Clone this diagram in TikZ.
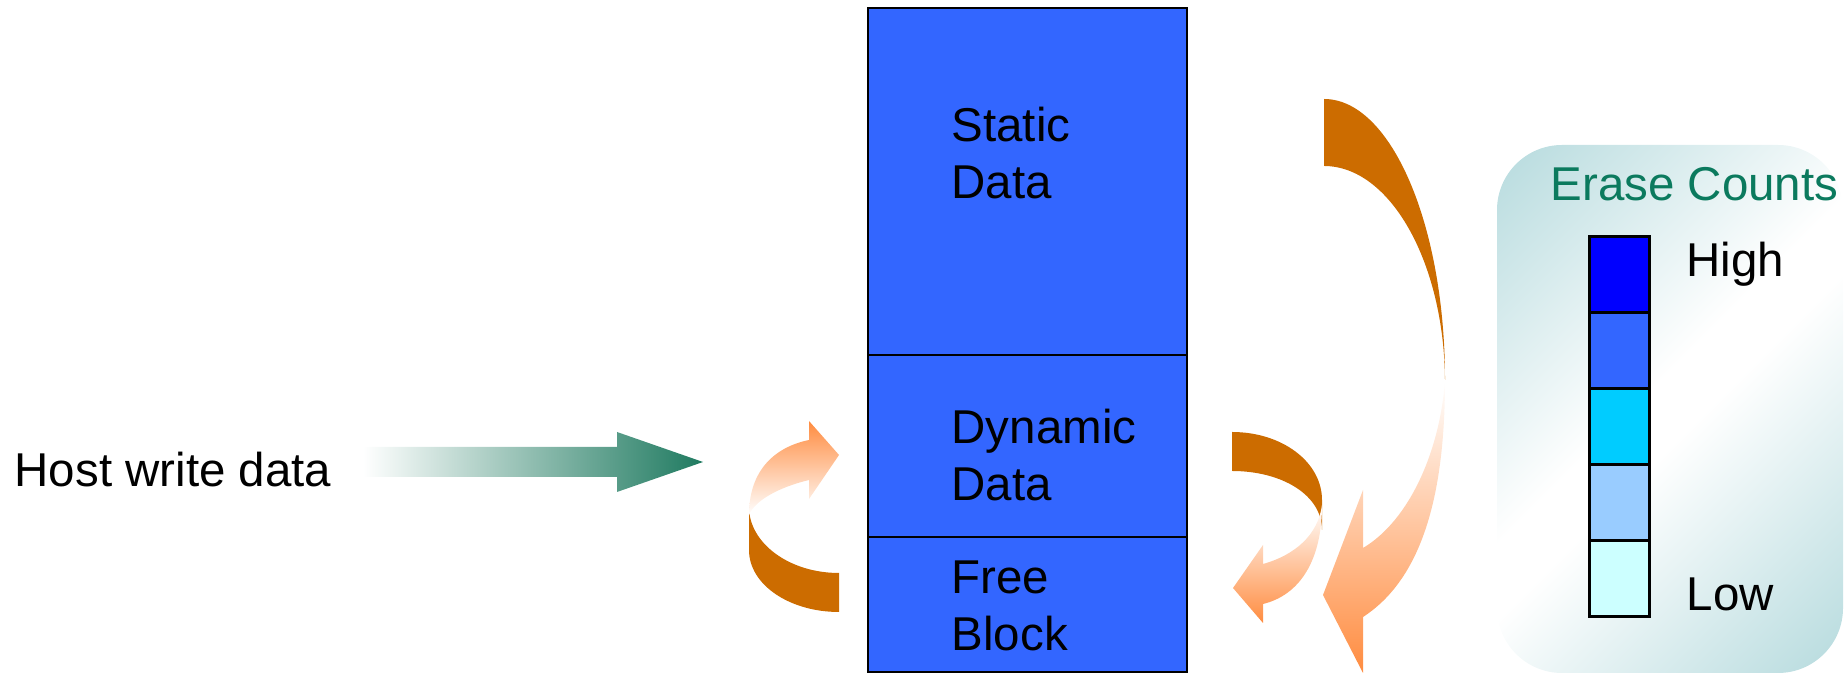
\documentclass[tikz,border=0pt]{standalone}
\usepackage{fontspec}
\setmainfont{Liberation Sans}
\usetikzlibrary{positioning}
\definecolor{blockblue}{HTML}{3366FF}
\definecolor{hostgreen}{HTML}{1F7A60}
\definecolor{erasegreen}{HTML}{0B7A5E}
\definecolor{panelteal}{HTML}{B9DCDF}
\definecolor{arrbrown}{HTML}{CC6C00}
\definecolor{arrorange}{HTML}{FF8C40}
\definecolor{countA}{HTML}{0000FF}
\definecolor{countB}{HTML}{3366FF}
\definecolor{countC}{HTML}{00CCFF}
\definecolor{countD}{HTML}{99CCFF}
\definecolor{countE}{HTML}{CCFFFF}
\pgfdeclareverticalshading{panelshade}{100bp}{color(0bp)=(panelteal); color(16bp)=(panelteal);
    color(47bp)=(white); color(53bp)=(white); color(84bp)=(panelteal); color(100bp)=(panelteal)}
\tikzset{blockstyle/.style={draw=black,line width=0.6pt,fill=blockblue,minimum width=3.19cm,inner sep=0pt,outer sep=0pt}}
\tikzset{textstyle/.style={font=\fontsize{13.5}{16.3}\selectfont,align=left,inner sep=0pt}}
\tikzset{cellstyle/.style={draw=black,line width=0.8pt,minimum width=0.6cm,minimum height=0.76cm,inner sep=0pt,anchor=north west}}

\begin{document}
\begin{tikzpicture}[x=0.01cm,y=-0.01cm]
            \useasboundingbox (0,0) rectangle (1845,674);
            % legend panel
            \shade[rounded corners=0.65cm,shading=panelshade,shading angle=45]
                (1497,145) rectangle (1843,673);
            % the blocks
            \node[blockstyle,minimum height=3.47cm,anchor=north] (static) at (1027.5,8) {};
            \node[blockstyle,minimum height=1.82cm,below=0pt of static] (dynamic) {};
            \node[blockstyle,minimum height=1.35cm,below=0pt of dynamic] (free) {};
            \node[textstyle,anchor=west] (statictext) at (951,153) {Static\\Data};
            \node[textstyle,anchor=west] (dynamictext) at (951,455) {Dynamic\\Data};
            \node[textstyle,anchor=west] (freetext) at (951,606) {Free\\Block};
            % host write
            \node[textstyle,anchor=base west] (host) at (14,487) {Host write data};
            \shade[left color=white,right color=hostgreen]
                (363,447) -- (617,447) -- (617,432) -- (703,462) -- (617,492) -- (617,477) -- (363,477) -- cycle;
            % free block back to the top (left)
            \fill[arrbrown] (749,507) -- (749,550) .. controls (749,585) and (790,612) .. (839,612)
                -- (839,573) .. controls (789,573) and (749,543) .. (749,507) -- cycle;
            \shade[top color=arrorange,bottom color=white]
                (749,515) .. controls (749,470) and (775,447) .. (809,440) -- (809,421) -- (839,455)
                -- (809,499) -- (809,480) .. controls (780,487) and (755,500) .. (749,515) -- cycle;
            % dynamic data to free block
            \fill[arrbrown] (1232,432) .. controls (1282,432) and (1322,462) .. (1322,500)
                -- (1322,530) .. controls (1322,495) and (1282,471) .. (1232,471) -- cycle;
            \shade[top color=white,bottom color=arrorange]
                (1322,505) .. controls (1322,560) and (1300,595) .. (1263,604) -- (1263,623) -- (1233,588)
                -- (1263,545) -- (1263,564) .. controls (1295,555) and (1318,535) .. (1322,505) -- cycle;
            % static data to free block
            \fill[arrbrown] (1324,99) .. controls (1391,99) and (1445,225) .. (1445,380)
                .. controls (1444,262) and (1390,166) .. (1324,166) -- cycle;
            \shade[top color=white,bottom color=arrorange]
                (1445,380) .. controls (1445,500) and (1420,580) .. (1363,617) -- (1363,673) -- (1323,595)
                -- (1363,490) -- (1363,548) .. controls (1410,520) and (1440,450) .. (1445,380) -- cycle;
            % erase counts legend
            \node[textstyle,anchor=base west,text=erasegreen] (erase) at (1550,201) {Erase Counts};
            \foreach \c [count=\i from 0] in {countA,countB,countC,countD,countE}
            {
                \node[cellstyle,fill=\c] (cell\i) at (1588,{235+76*\i}) {};
            }
            \node[textstyle,anchor=base west] (high) at (1686,277) {High};
            \node[textstyle,anchor=base west] (low) at (1686,611) {Low};
\end{tikzpicture}
\end{document}
